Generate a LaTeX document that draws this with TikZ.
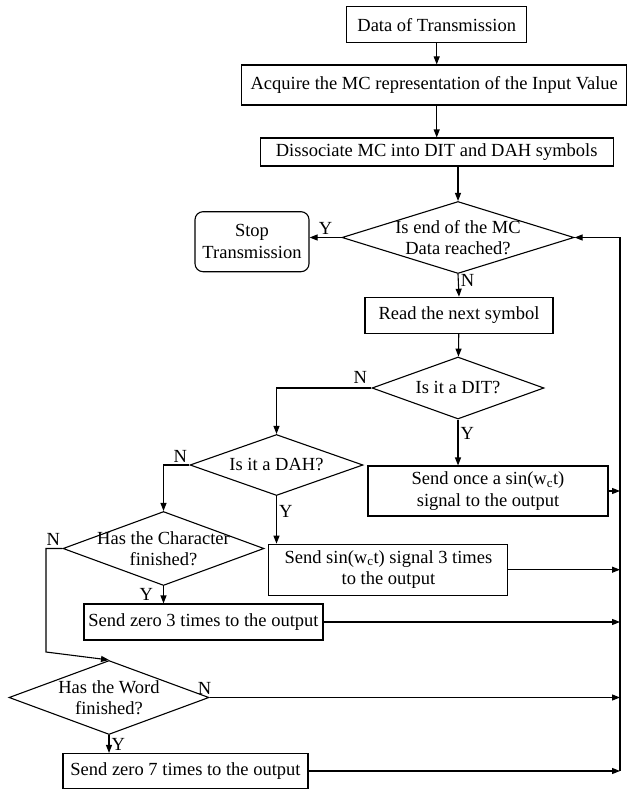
\documentclass[tikz,border=0pt]{standalone}
\usepackage{fontspec}
\setmainfont{Liberation Serif}
\usetikzlibrary{shapes.geometric, arrows.meta, calc}

\begin{document}
\begin{tikzpicture}[x=1pt, y=-1pt, line width=1.1pt,
    >={Triangle[length=8pt,width=6pt]},
    every node/.style={font=\fontsize{18.5}{21.5}\selectfont},
    box/.style 2 args={draw, rectangle, align=center, inner sep=0pt,
      minimum width=#1, minimum height=#2},
    dec/.style 2 args={draw, diamond, inner sep=0pt,
      minimum width=#1, minimum height=#2},
    yn/.style={inner sep=2pt}]
  \useasboundingbox (0,0) rectangle (628,789);

  \node[box={180}{36}] (A) at (436.7,24.7) {Data of Transmission};
  \node[box={385}{40}] (B) at (434.2,85) {Acquire the MC representation of the Input Value};
  \node[box={353}{28}] (C) at (436.7,152) {Dissociate MC into DIT and DAH symbols};
  \node[dec={232}{72}, label={[align=center]center:Is end of the MC\\Data reached?}] (D) at (458,237.5) {};
  \node[box={114}{60}, rounded corners=8pt] (E) at (252,241.7) {Stop\\Transmission};
  \node[box={188}{36}] (F) at (459,315.3) {Read the next symbol};
  \node[dec={172}{62}, label={center:Is it a DIT?}] (G) at (458,388) {};
  \node[dec={173}{61}, label={center:Is it a DAH?}] (H) at (276.5,465) {};
  \node[box={240}{50}] (I) at (488,491) {Send once a sin(w\textsubscript{c}t)\\signal to the output};
  \node[dec={201}{74}, label={[align=center]center:Has the Character\\finished?}] (J) at (163.5,548.5) {};
  \node[box={239}{51}] (K) at (388.4,569.7) {Send sin(w\textsubscript{c}t) signal 3 times\\to the output};
  \node[box={239}{36}] (L) at (203.5,622) {Send zero 3 times to the output};
  \node[dec={200}{74}, label={[align=center]center:Has the Word\\finished?}] (M) at (109,697.5) {};
  \node[box={245}{35}] (O) at (185.5,771) {Send zero 7 times to the output};
  \coordinate (R) at (620,237.5);
  \coordinate (S) at (46,652);

  \draw[->] (A.south) -- (A.south |- B.north);
  \draw[->] (A.south |- B.south) -- (A.south |- C.north);
  \draw[->] (D.north |- C.south) -- (D.north);
  \draw[->] (D.west) -- node[yn, above]{Y} (E.east |- D.west);
  \draw[->] (D.south) -- node[yn, right, pos=0.3]{N} (F.north);
  \draw[->] (F) -- (G);
  \draw[->] (G.west) node[yn, above left, inner sep=4pt]{N} -| (H.north);
  \draw[->] (G.south) -- node[yn, right, pos=0.3]{Y} (G.south |- I.north);
  \draw[->] (H.west) node[yn, above left]{N} -| (J.north);
  \draw[->] (H.south) -- node[yn, right, pos=0.33]{Y} (H.south |- K.north);
  \draw[->] (J.west) node[yn, above left]{N} -| (S) -- (M.north);
  \draw[->] (J.south) -- node[yn, left, xshift=-8pt]{Y} (J.south |- L.north);
  \draw[->] (M.south) -- node[yn, right]{Y} (M.south |- O.north);
  \draw[->] (M.east) node[yn, above, xshift=-5pt]{N} -- (M.east -| R);
  \draw[->] (I.east) -- (I.east -| R);
  \draw[->] (K.east) -- (K.east -| R);
  \draw[->] (L.east) -- (L.east -| R);
  \draw[->] (O.east) -- (O.east -| R);
  \draw[->] (O.east -| R) -- (R) -- (D.east);
\end{tikzpicture}
\end{document}
